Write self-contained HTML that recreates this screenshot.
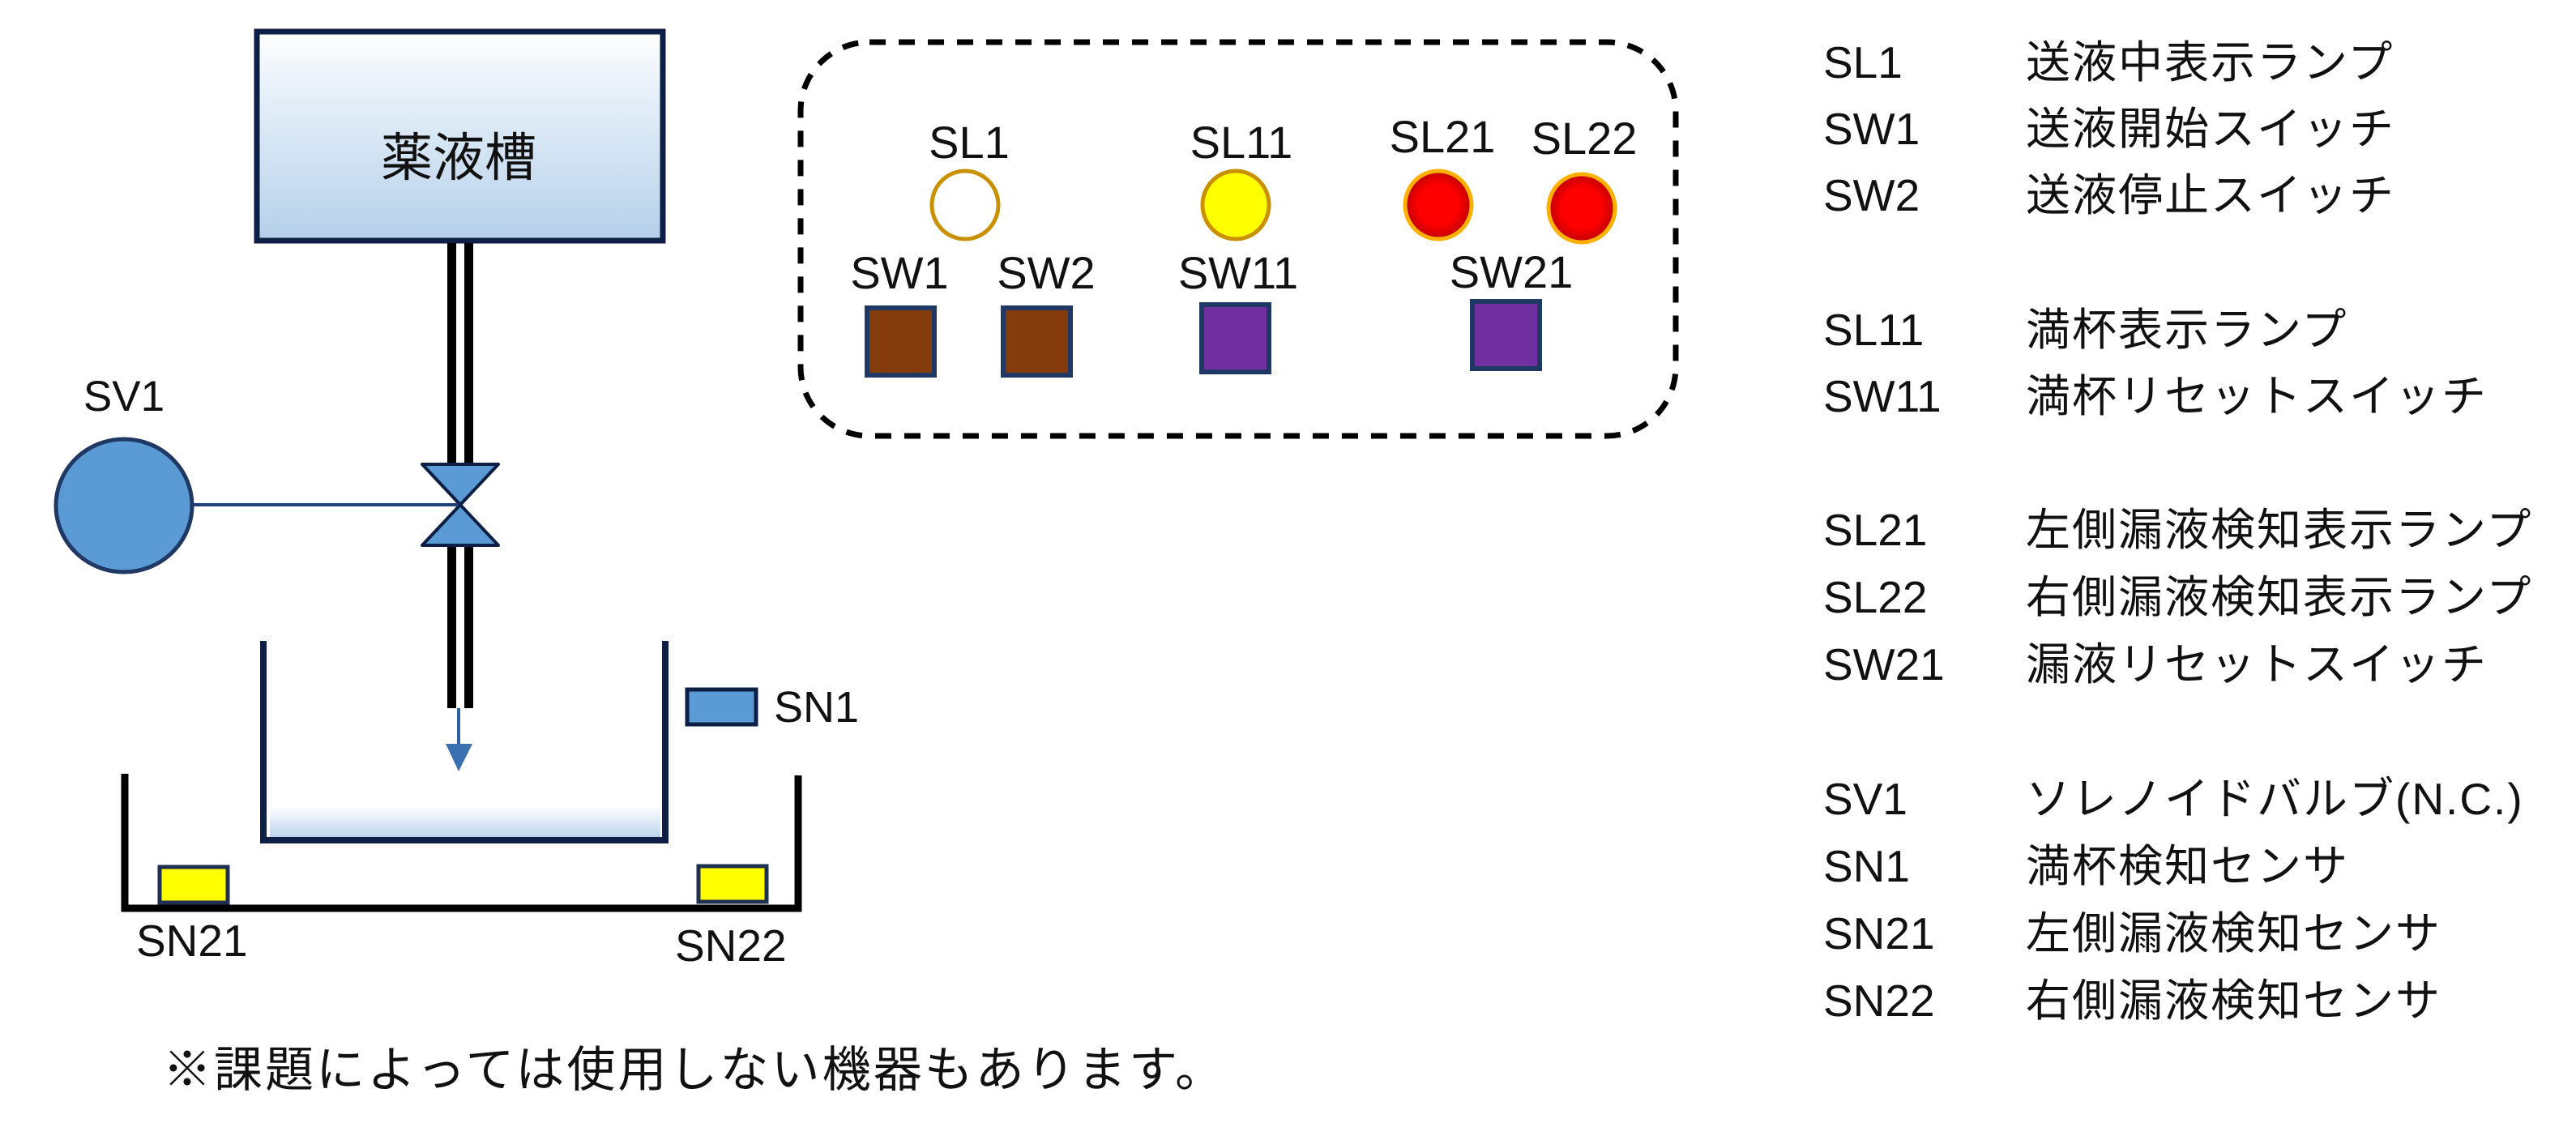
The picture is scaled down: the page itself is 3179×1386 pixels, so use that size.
<!DOCTYPE html>
<html><head><meta charset="utf-8"><style>
html,body{margin:0;padding:0;background:#fff;width:3179px;height:1386px;overflow:hidden}
svg text{font-family:"Liberation Sans","Noto Sans CJK JP",sans-serif}
.jp{letter-spacing:2px}
</style></head><body>
<svg width="3179" height="1386" viewBox="0 0 3179 1386" xmlns="http://www.w3.org/2000/svg">
<defs>
<linearGradient id="tg" x1="0" y1="0" x2="0" y2="1"><stop offset="0" stop-color="#ffffff"/><stop offset="0.25" stop-color="#eaf2fa"/><stop offset="1" stop-color="#b5d0ea"/></linearGradient>
<linearGradient id="wg" x1="0" y1="0" x2="0" y2="1"><stop offset="0" stop-color="#ffffff"/><stop offset="1" stop-color="#bcd5ec"/></linearGradient>
<radialGradient id="rg"><stop offset="0.6" stop-color="#ff0000"/><stop offset="1" stop-color="#c00000"/></radialGradient>
</defs>
<rect x="317" y="39" width="501" height="258" fill="url(#tg)" stroke="#0d1f45" stroke-width="7"/>
<text x="566" y="217" font-size="64" text-anchor="middle" fill="#111">薬液槽</text>
<rect x="552" y="300" width="11" height="275" fill="#000"/>
<rect x="573" y="300" width="11" height="275" fill="#000"/>
<rect x="552" y="672" width="11" height="202" fill="#000"/>
<rect x="573" y="672" width="11" height="202" fill="#000"/>
<polygon points="521,573 615,573 568,623" fill="#5b9bd5" stroke="#0d1f45" stroke-width="4" stroke-linejoin="round"/>
<polygon points="521,673 615,673 568,623" fill="#5b9bd5" stroke="#0d1f45" stroke-width="4" stroke-linejoin="round"/>
<line x1="238" y1="623" x2="566" y2="623" stroke="#1f3f7a" stroke-width="4"/>
<ellipse cx="153" cy="624" rx="84" ry="82" fill="#5b9bd5" stroke="#1f3864" stroke-width="5"/>
<text x="153" y="507" font-size="53" text-anchor="middle" fill="#111">SV1</text>
<line x1="566" y1="874" x2="566" y2="922" stroke="#2e5f9e" stroke-width="4"/>
<polygon points="550,918 583,918 566,952" fill="#3a6fb0"/>
<rect x="333" y="995" width="482" height="38" fill="url(#wg)"/>
<polyline points="325,791 325,1037 821,1037 821,791" fill="none" stroke="#0d1f45" stroke-width="8"/>
<rect x="848" y="851" width="85" height="43" fill="#5b9bd5" stroke="#0d1f45" stroke-width="5"/>
<text x="955" y="891" font-size="54" fill="#111">SN1</text>
<polyline points="154,955 154,1121 985,1121 985,957" fill="none" stroke="#000" stroke-width="9"/>
<rect x="197" y="1070" width="84" height="44" fill="#ffff00" stroke="#1f2f50" stroke-width="5"/>
<rect x="862" y="1069" width="84" height="44" fill="#ffff00" stroke="#1f2f50" stroke-width="5"/>
<text x="168" y="1180" font-size="55" fill="#111">SN21</text>
<text x="833" y="1186" font-size="55" fill="#111">SN22</text>
<rect x="988" y="52" width="1080" height="486" rx="85" ry="85" fill="none" stroke="#000" stroke-width="7" stroke-dasharray="20,16"/>
<text x="1196" y="195" font-size="56" text-anchor="middle" fill="#111">SL1</text>
<text x="1532" y="195" font-size="56" text-anchor="middle" fill="#111">SL11</text>
<text x="1780" y="188" font-size="56" text-anchor="middle" fill="#111">SL21</text>
<text x="1955" y="190" font-size="56" text-anchor="middle" fill="#111">SL22</text>
<ellipse cx="1191" cy="253" rx="41" ry="42" fill="#fff" stroke="#c99100" stroke-width="5"/>
<ellipse cx="1525" cy="253" rx="41" ry="42" fill="#ffff00" stroke="#c99100" stroke-width="5"/>
<ellipse cx="1775" cy="253" rx="41" ry="42" fill="url(#rg)" stroke="#ffb000" stroke-width="5"/>
<ellipse cx="1952" cy="257" rx="41" ry="42" fill="url(#rg)" stroke="#ffb000" stroke-width="5"/>
<text x="1110" y="356" font-size="56" text-anchor="middle" fill="#111">SW1</text>
<text x="1291" y="356" font-size="56" text-anchor="middle" fill="#111">SW2</text>
<text x="1528" y="356" font-size="56" text-anchor="middle" fill="#111">SW11</text>
<text x="1865" y="355" font-size="56" text-anchor="middle" fill="#111">SW21</text>
<rect x="1070" y="380" width="83" height="83" fill="#843c0c" stroke="#1f3864" stroke-width="6"/>
<rect x="1238" y="380" width="83" height="83" fill="#843c0c" stroke="#1f3864" stroke-width="6"/>
<rect x="1483" y="376" width="83" height="83" fill="#7030a0" stroke="#1f3864" stroke-width="6"/>
<rect x="1817" y="372" width="83" height="83" fill="#7030a0" stroke="#1f3864" stroke-width="6"/>
<g font-size="55" fill="#111">
<text x="2250" y="96">SL1</text><text class="jp" x="2500" y="96">送液中表示ランプ</text>
<text x="2250" y="178">SW1</text><text class="jp" x="2500" y="178">送液開始スイッチ</text>
<text x="2250" y="260">SW2</text><text class="jp" x="2500" y="260">送液停止スイッチ</text>
<text x="2250" y="426">SL11</text><text class="jp" x="2500" y="426">満杯表示ランプ</text>
<text x="2250" y="508">SW11</text><text class="jp" x="2500" y="508">満杯リセットスイッチ</text>
<text x="2250" y="673">SL21</text><text class="jp" x="2500" y="673">左側漏液検知表示ランプ</text>
<text x="2250" y="756">SL22</text><text class="jp" x="2500" y="756">右側漏液検知表示ランプ</text>
<text x="2250" y="839">SW21</text><text class="jp" x="2500" y="839">漏液リセットスイッチ</text>
<text x="2250" y="1005">SV1</text><text class="jp" x="2500" y="1005">ソレノイドバルブ(N.C.)</text>
<text x="2250" y="1088">SN1</text><text class="jp" x="2500" y="1088">満杯検知センサ</text>
<text x="2250" y="1171">SN21</text><text class="jp" x="2500" y="1171">左側漏液検知センサ</text>
<text x="2250" y="1254">SN22</text><text class="jp" x="2500" y="1254">右側漏液検知センサ</text>
</g>
<text x="201" y="1341" font-size="60" fill="#111" textLength="1309">※課題によっては使用しない機器もあります。</text>
</svg>
</body></html>
